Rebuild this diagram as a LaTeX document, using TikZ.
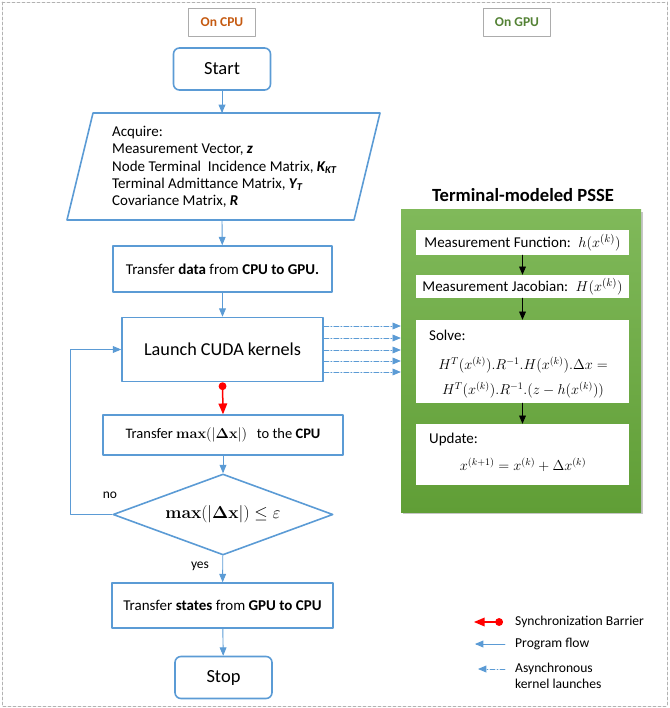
\documentclass[tikz,border=0pt]{standalone}
\usepackage{amsmath,amssymb}
\usepackage[no-math]{fontspec}
\setmainfont{Carlito}
\usepackage{tikz}
\usetikzlibrary{arrows,shapes.geometric,shadows}
\definecolor{flowblue}{RGB}{91,155,213}
\definecolor{cpuorange}{RGB}{197,90,17}
\definecolor{gpugreen}{RGB}{84,130,53}
\definecolor{psselight}{RGB}{128,185,90}
\definecolor{pssedark}{RGB}{96,158,54}

\begin{document}
\begin{tikzpicture}[line cap=round,line join=round,>=triangle 45,x=1pt,y=-1pt,
    tag/.style={draw=gray!65,line width=0.7pt,minimum width=67pt,minimum height=28pt,inner sep=0pt,font=\bfseries\fontsize{13.5}{16}\selectfont},
    term/.style={draw=flowblue,line width=1.6pt,rounded corners=6pt,minimum width=97pt,minimum height=42pt,inner sep=0pt,font=\fontsize{18.5}{21}\selectfont},
    proc/.style={draw=flowblue,line width=1.6pt,inner sep=0pt,font=\fontsize{15}{18}\selectfont},
    flow/.style={->,draw=flowblue,line width=0.9pt},
    async/.style={->,draw=flowblue,line width=0.9pt,dash pattern=on 5pt off 2pt on 1pt off 2pt},
    sync/.style={*->,draw=red,line width=1.5pt},
    gpustep/.style={fill=white,inner sep=0pt,minimum width=213pt,font=\fontsize{15}{17}\selectfont},
    gpuflow/.style={->,draw=black,line width=0.9pt},
    legend/.style={anchor=west,inner sep=0pt,align=left,font=\fontsize{13.6}{15}\selectfont}]
    \useasboundingbox (0,0) rectangle (669,708);
    \draw [gray!60,line width=0.7pt,dash pattern=on 3pt off 2pt] (2,2) rectangle (667,706);
    \node [tag,text=cpuorange] (cpu) at (222,22) {On CPU};
    \node [tag,text=gpugreen] (gpu) at (517,22) {On GPU};
    \node [term] (start) at (222,69) {Start};
    \coordinate (acqtop) at (222,113);
    \coordinate (acqbot) at (222,220);
    \draw [draw=flowblue,line width=1.6pt] (93,113) -- (380,113) -- (354,220) -- (67,220) -- cycle;
    \node [anchor=west,inner sep=0pt,align=left,font=\fontsize{15}{17.3}\selectfont] (acq) at (112,167) {Acquire:\\Measurement Vector, \textbf{\textit{z}}\\Node Terminal\ \ Incidence Matrix, \textbf{\textit{K\textsubscript{KT}}}\\Terminal Admittance Matrix, \textbf{\textit{Y\textsubscript{T}}}\\Covariance Matrix, \textbf{\textit{R}}};
    \node [proc,minimum width=219pt,minimum height=46pt] (todev) at (222.5,269) {Transfer \textbf{data} from \textbf{CPU to GPU.}};
    \node [proc,minimum width=201pt,minimum height=64pt,font=\fontsize{18.2}{21}\selectfont] (launch) at (222.5,349.5) {Launch CUDA kernels};
    \node [proc,minimum width=240pt,minimum height=40pt,font=\fontsize{14.5}{17}\selectfont] (xfer) at (223,435) {Transfer $\mathbf{max}(|\boldsymbol{\Delta}\mathbf{x}|)$\ \ \ to the \textbf{CPU}};
    \node [diamond,draw=flowblue,line width=1.6pt,inner sep=0pt,aspect=2.7,minimum width=220pt,minimum height=81pt,font=\fontsize{17.5}{20}\selectfont] (check) at (223,514.5) {$\mathbf{max}(|\boldsymbol{\Delta}\mathbf{x}|)\le\varepsilon$};
    \node [proc,minimum width=221pt,minimum height=45pt] (states) at (222.5,605.5) {Transfer \textbf{states} from \textbf{GPU to CPU}};
    \node [term] (stop) at (223.5,677.5) {Stop};
    \coordinate (loopx) at (70,0);
    \draw [flow] (start) -- (acqtop);
    \draw [flow] (acqbot) -- (todev);
    \draw [flow] (todev) -- (launch);
    \draw [sync] (launch.south) -- (xfer.north);
    \draw [flow] (xfer) -- (check);
    \draw [flow] (check) -- (states);
    \draw [flow] (states) -- (stop);
    \draw [flow] (check.west) -- (check.west -| loopx) |- (launch.west);
    \node [font=\fontsize{13.5}{15}\selectfont] (nolbl) at (110,495) {no};
    \node [font=\fontsize{13.5}{15}\selectfont] (yeslbl) at (200,566) {yes};
    \node [font=\bfseries\fontsize{18.6}{21}\selectfont] (psstitle) at (523,195) {Terminal-modeled PSSE};
    \node [minimum width=240pt,minimum height=302pt,top color=psselight,bottom color=pssedark,drop shadow={opacity=0.45,shadow xshift=2pt,shadow yshift=-2pt}] (psse) at (521,361) {};
    \node [gpustep,minimum height=25pt] (mfun) at (522.5,242.5) {Measurement Function:\enspace $h(x^{(k)})$};
    \node [gpustep,minimum height=23pt] (mjac) at (522.5,286.5) {Measurement Jacobian:\enspace $H(x^{(k)})$};
    \node [gpustep,minimum height=83pt] (solve) at (522.5,361.5) {};
    \node [gpustep,minimum height=61pt] (update) at (522.5,454.5) {};
    \node [legend,font=\fontsize{15}{17}\selectfont] (solvehd) at (429,335) {Solve:};
    \node [align=center,inner sep=0pt,font=\fontsize{14}{25}\selectfont] (solveeq) at (523,377.5) {$H^T(x^{(k)}).R^{-1}.H(x^{(k)}).\Delta x =$\\$H^T(x^{(k)}).R^{-1}.(z-h(x^{(k)}))$};
    \node [legend,font=\fontsize{15}{17}\selectfont] (updatehd) at (429,439) {Update:};
    \node [inner sep=0pt,font=\fontsize{14}{16}\selectfont] (updateeq) at (523,465) {$x^{(k+1)}=x^{(k)}+\Delta x^{(k)}$};
    \draw [gpuflow] (mfun) -- (mjac);
    \draw [gpuflow] (mjac) -- (solve);
    \draw [gpuflow] (solve) -- (update);
    \foreach \yy in {326,338,350,361,372}
        \draw [async] (launch.east |- 0,\yy) -- (psse.west |- 0,\yy);
    \coordinate (syncA) at (474,622);
    \coordinate (syncB) at (503,622);
    \coordinate (flowA) at (475,644);
    \coordinate (flowB) at (505,644);
    \coordinate (asyncA) at (478,669);
    \coordinate (asyncB) at (505,669);
    \draw [sync] (syncB) -- (syncA);
    \draw [flow] (flowB) -- (flowA);
    \draw [async] (asyncB) -- (asyncA);
    \node [legend] (synclbl) at (515,622) {Synchronization Barrier};
    \node [legend] (flowlbl) at (515,644) {Program flow};
    \node [legend,font=\fontsize{13.6}{16}\selectfont] (asynclbl) at (515,676) {Asynchronous\\kernel launches};
\end{tikzpicture}
\end{document}
